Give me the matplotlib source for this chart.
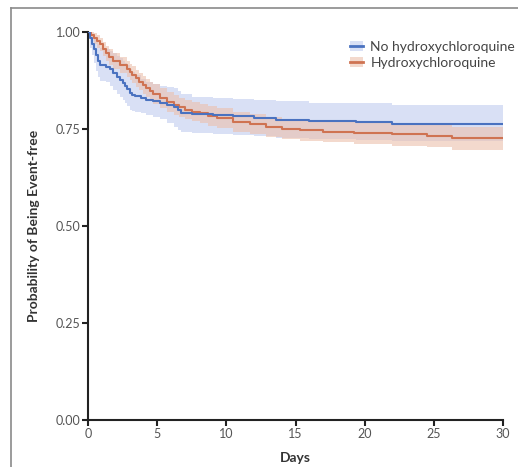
import numpy as np
import matplotlib.pyplot as plt
from matplotlib.lines import Line2D
from matplotlib.patches import Patch

# Kaplan-Meier style step data
t_no = [0, 0.15, 0.3, 0.45, 0.6, 0.75, 0.9, 1.3, 1.6, 1.8, 2.1, 2.3, 2.5, 2.7, 2.8, 3.0, 3.2, 3.4, 3.8, 4.2, 4.7, 5.2, 5.7, 6.2, 6.5, 6.7, 7.5, 9.0, 10.5, 12.0, 13.6, 16.0, 19.4, 22.0, 30]
s_no = [1.0, 0.985, 0.97, 0.955, 0.94, 0.925, 0.915, 0.91, 0.905, 0.894, 0.885, 0.876, 0.868, 0.86, 0.852, 0.843, 0.838, 0.835, 0.83, 0.826, 0.822, 0.818, 0.812, 0.806, 0.798, 0.79, 0.788, 0.786, 0.783, 0.778, 0.773, 0.77, 0.767, 0.763, 0.763]
lo_no = [1.0, 0.96, 0.94, 0.92, 0.9, 0.885, 0.875, 0.87, 0.862, 0.85, 0.84, 0.832, 0.824, 0.816, 0.81, 0.80, 0.797, 0.795, 0.79, 0.785, 0.78, 0.775, 0.765, 0.755, 0.748, 0.742, 0.74, 0.738, 0.735, 0.732, 0.728, 0.725, 0.722, 0.718, 0.715]
hi_no = [1.0, 0.998, 0.993, 0.985, 0.977, 0.968, 0.96, 0.955, 0.95, 0.945, 0.938, 0.932, 0.925, 0.92, 0.915, 0.905, 0.897, 0.89, 0.88, 0.872, 0.865, 0.862, 0.858, 0.855, 0.848, 0.84, 0.833, 0.83, 0.828, 0.825, 0.822, 0.818, 0.816, 0.813, 0.812]

t_hcq = [0, 0.2, 0.4, 0.65, 0.9, 1.1, 1.3, 1.55, 1.8, 2.3, 2.8, 3.0, 3.2, 3.45, 3.7, 3.95, 4.2, 4.45, 4.7, 5.2, 5.7, 6.2, 6.6, 7.0, 7.5, 8.1, 8.7, 9.3, 10.5, 11.7, 12.9, 14.0, 15.3, 17.0, 19.2, 22.0, 24.5, 26.3, 30]
s_hcq = [1.0, 0.993, 0.985, 0.977, 0.968, 0.956, 0.945, 0.935, 0.925, 0.915, 0.905, 0.898, 0.89, 0.881, 0.872, 0.863, 0.855, 0.847, 0.84, 0.83, 0.82, 0.812, 0.806, 0.8, 0.795, 0.79, 0.784, 0.778, 0.768, 0.762, 0.755, 0.75, 0.747, 0.743, 0.74, 0.736, 0.733, 0.727, 0.727]
lo_hcq = [1.0, 0.982, 0.97, 0.96, 0.95, 0.937, 0.925, 0.915, 0.905, 0.895, 0.885, 0.877, 0.868, 0.859, 0.85, 0.841, 0.832, 0.823, 0.815, 0.805, 0.795, 0.787, 0.781, 0.775, 0.77, 0.765, 0.758, 0.752, 0.742, 0.736, 0.729, 0.724, 0.72, 0.716, 0.712, 0.707, 0.703, 0.697, 0.695]
hi_hcq = [1.0, 1.0, 0.997, 0.992, 0.985, 0.975, 0.965, 0.955, 0.945, 0.935, 0.925, 0.918, 0.912, 0.903, 0.895, 0.886, 0.878, 0.871, 0.865, 0.855, 0.845, 0.837, 0.831, 0.825, 0.82, 0.815, 0.809, 0.803, 0.794, 0.788, 0.782, 0.777, 0.773, 0.77, 0.767, 0.764, 0.761, 0.756, 0.756]

x_ticks = [0, 5, 10, 15, 20, 25, 30]
y_ticks = [0.0, 0.25, 0.5, 0.75, 1.0]
y_tick_labels = ['0.00', '0.25', '0.50', '0.75', '1.00']

blue = '#4a72c0'
blue_band = '#cdd6f2'
orange = '#cf7352'
orange_band = '#ecc0ac'

plt.rcParams['font.family'] = ['Lato', 'DejaVu Sans']

fig = plt.figure(figsize=(5.18, 4.67), dpi=100)
ax = fig.add_axes([88 / 518, 1 - 420 / 467, 415 / 518, 388 / 467])

# confidence bands
ax.fill_between(t_no, lo_no, hi_no, step='post', color=blue_band, alpha=0.75, lw=0)
ax.fill_between(t_hcq, lo_hcq, hi_hcq, step='post', color=orange_band, alpha=0.6, lw=0)

ax.step(t_no, s_no, where='post', color=blue, lw=1.5, zorder=4)
ax.step(t_hcq, s_hcq, where='post', color=orange, lw=1.5, zorder=3)

ax.set_xlim(0, 30)
ax.set_ylim(0, 1)
ax.set_xticks(x_ticks)
ax.set_yticks(y_ticks)
ax.set_yticklabels(y_tick_labels)

for side in ['top', 'right']:
    ax.spines[side].set_visible(False)
for side in ['left', 'bottom']:
    ax.spines[side].set_linewidth(1.5)
    ax.spines[side].set_color('#222222')
ax.tick_params(axis='both', direction='out', length=4, width=1.5, color='#222222',
               labelsize=9, labelcolor='#555555', pad=1.5)

ax.set_xlabel('Days', fontsize=10, fontweight='bold', color='#333333', labelpad=9)
ax.set_ylabel('Probability of Being Event-free', fontsize=10, fontweight='bold',
              color='#333333', labelpad=11)

handles = [
    (Patch(facecolor=blue_band, alpha=0.75, lw=0), Line2D([], [], color=blue, lw=2)),
    (Patch(facecolor=orange_band, alpha=0.6, lw=0), Line2D([], [], color=orange, lw=2)),
]
ax.legend(handles, ['No hydroxychloroquine', 'Hydroxychloroquine'],
          loc='upper left', bbox_to_anchor=(0.6, 1.01), frameon=False,
          fontsize=10, handlelength=1.0, handleheight=0.7, handletextpad=0.5,
          labelspacing=0.3, labelcolor='#444444')

# outer frame lines (left and top)
fig.add_artist(Line2D([11 / 518, 11 / 518], [0, 1 - 8 / 467], color='#8a8a8a', lw=1.2,
                      transform=fig.transFigure))
fig.add_artist(Line2D([11 / 518, 1], [1 - 8 / 467, 1 - 8 / 467], color='#8a8a8a', lw=1.2,
                      transform=fig.transFigure))

fig.savefig('out.png', dpi=100)
